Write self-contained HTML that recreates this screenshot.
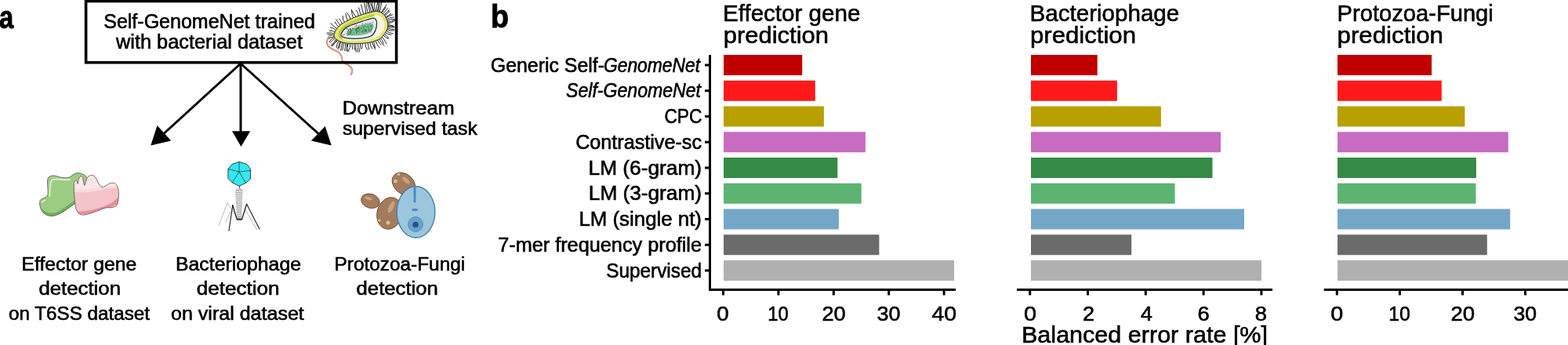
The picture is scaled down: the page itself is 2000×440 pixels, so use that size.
<!DOCTYPE html>
<html><head><meta charset="utf-8"><style>
html,body{margin:0;padding:0;background:#fff;width:2000px;height:440px;overflow:hidden}
svg{display:block}
text{font-family:"Liberation Sans", sans-serif;fill:#000}
</style></head><body>
<svg width="2000" height="440" viewBox="0 0 2000 440">
<!-- bacterium -->
<g id="bact">
<path d="M423,44.6 C417.5,47 416,53 417.6,57.2 C419,61 426,64 430.9,66 C434.5,68 436.3,73 436.8,77.8 C437.5,80.5 441,81.5 443.4,82.3 C446.5,84 449.5,87.5 449.3,91.1 C449,93 448,94.5 447.1,95.6" fill="none" stroke="#c47a6a" stroke-width="1.9"/><path d="M423,44.6 C417.5,47 416,53 417.6,57.2 C419,61 426,64 430.9,66 C434.5,68 436.3,73 436.8,77.8 C437.5,80.5 441,81.5 443.4,82.3 C446.5,84 449.5,87.5 449.3,91.1 C449,93 448,94.5 447.1,95.6" fill="none" stroke="#eea592" stroke-width="0.8"/>
<path d="M427.1,44.8Q422.2,43.8 418.1,44.0M427.4,43.1Q422.1,41.1 416.9,42.1M428.1,41.3Q424.4,38.5 420.3,39.1M429.1,39.2Q425.6,35.4 421.3,34.8M430.5,37.1Q425.5,33.5 421.8,29.8M432.2,35.0Q429.0,31.4 427.2,27.8M434.2,33.1Q431.3,28.3 428.6,24.7M436.8,31.2Q435.0,26.9 432.7,24.0M440.0,29.2Q436.3,25.5 437.1,20.3M443.6,27.3Q441.7,22.2 440.8,17.6M447.3,25.5Q446.0,19.6 442.3,15.9M451.0,23.8Q448.4,18.3 448.4,12.7M454.4,22.3Q450.8,17.0 448.2,12.4M457.6,21.1Q457.2,15.9 454.2,12.8M460.7,20.0Q458.4,14.7 457.6,9.9M463.8,19.0Q462.1,12.0 460.6,6.0M466.8,18.2Q466.1,10.3 464.8,3.5M469.6,17.5Q466.7,10.1 467.8,2.8M472.0,16.9Q470.2,8.8 469.2,1.5M474.1,16.3Q472.3,8.4 469.3,1.7M475.9,15.9Q475.5,7.6 470.4,1.3M477.4,15.6Q475.1,8.5 474.1,2.3M478.7,15.4Q476.7,7.3 478.1,-0.1M479.9,15.4Q479.8,7.4 482.5,0.6M481.2,15.5Q483.9,8.3 482.6,1.5M482.6,15.8Q483.3,8.0 484.9,1.5M484.0,16.2Q485.8,8.6 487.0,1.9M485.4,16.8Q489.8,11.0 493.1,5.8M486.6,17.5Q489.4,13.0 491.9,9.5M487.8,18.3Q491.7,14.0 494.8,10.4M488.9,19.3Q494.0,16.4 496.6,12.2M489.8,20.5Q494.6,17.9 497.0,13.8M490.8,21.9Q495.9,20.6 498.8,17.4M491.7,23.5Q496.1,19.8 500.7,18.7M492.4,25.2Q497.1,21.8 502.2,21.9M493.0,26.8Q498.1,23.9 503.3,24.4M493.4,28.4Q498.8,27.8 502.9,25.7M493.7,29.9Q499.7,29.8 504.1,26.1M493.9,31.4Q498.5,31.7 502.2,33.3M493.9,32.8Q498.9,33.0 502.8,33.8M493.7,34.2Q498.8,34.8 503.0,35.0M493.4,35.7Q498.3,37.6 502.7,37.6M492.8,37.3Q497.3,40.2 502.4,39.0M491.9,39.0Q496.6,42.3 501.5,43.0M490.9,40.9Q494.6,44.3 499.1,44.5M489.6,42.9Q493.7,45.6 496.1,48.8M488.2,44.7Q492.1,47.4 495.1,49.6M486.6,46.4Q491.0,50.8 493.1,55.9M484.9,47.9Q488.2,51.5 489.4,55.4M483.1,49.1Q486.3,54.5 490.0,58.4M481.1,50.2Q483.0,54.5 486.0,57.2M478.9,51.1Q480.0,57.2 484.2,61.1M476.6,51.8Q477.2,57.0 478.5,60.8M474.1,52.5Q476.1,58.3 478.6,63.0M471.6,53.1Q471.8,58.3 474.6,61.9M468.9,53.6Q469.8,58.7 470.5,62.8M465.9,53.9Q465.1,59.4 468.5,63.4M462.8,54.2Q461.8,58.8 461.4,62.3M459.7,54.3Q460.2,60.8 457.9,66.4M456.7,54.4Q457.7,60.8 455.8,66.2M454.0,54.5Q453.6,60.7 454.1,65.8M451.5,54.5Q451.9,59.6 452.8,63.7M449.1,54.5Q448.7,59.2 449.9,62.8M446.8,54.5Q447.8,60.6 444.2,65.6M444.6,54.3Q442.9,60.1 441.7,64.9M442.6,54.1Q441.6,60.3 443.5,65.9M440.7,53.8Q440.6,59.9 439.7,64.8M438.8,53.5Q437.5,59.1 436.9,63.9M437.1,53.0Q435.1,59.1 434.7,64.6M435.5,52.5Q432.8,56.9 432.6,61.1M434.0,52.0Q432.0,57.7 430.9,62.8M432.7,51.3Q429.1,55.7 429.1,61.0M431.5,50.6Q426.9,54.8 423.8,58.8M430.3,49.7Q427.8,55.5 423.0,58.4M429.2,48.8Q426.0,54.4 422.4,58.2M428.2,47.9Q424.3,51.1 421.5,54.0M427.5,47.0Q422.3,48.6 419.8,53.6M427.1,45.9Q422.7,47.7 419.3,49.0" fill="none" stroke="#1a1a1a" stroke-width="0.95" stroke-linecap="round"/>
<path d="M426.1,44.6 C426.6,41.4 429.0,36.2 433.6,32.3 C438.2,28.4 447.6,24.1 454.0,21.4 C460.4,18.7 467.2,17.1 471.8,15.9 C476.4,14.8 478.4,14.1 481.4,14.5 C484.4,14.9 487.4,16.3 489.6,18.6 C491.8,20.9 493.7,25.0 494.4,28.2 C495.1,31.4 495.2,34.3 493.7,37.7 C492.2,41.1 489.1,46.0 485.5,48.7 C481.9,51.4 477.1,53.0 471.8,54.1 C466.6,55.2 459.2,55.4 454.0,55.5 C448.8,55.6 444.4,55.5 440.5,54.8 C436.6,54.1 433.3,53.1 430.9,51.4 C428.5,49.7 425.7,47.8 426.1,44.6 Z" fill="#e2e67a" stroke="#2a2a2a" stroke-width="1"/>
<path d="M431.5,44.6 C432.0,42.5 433.1,39.0 437.0,36.0 C440.9,33.0 449.2,29.1 455.0,26.5 C460.8,23.9 467.7,21.7 472.0,20.5 C476.3,19.3 478.5,19.2 481.0,19.5 C483.5,19.8 485.5,20.9 487.0,22.5 C488.5,24.1 489.6,26.5 490.0,29.0 C490.4,31.5 490.8,34.7 489.5,37.5 C488.2,40.3 485.7,43.8 482.5,46.0 C479.3,48.2 475.2,49.6 470.5,50.5 C465.8,51.4 458.9,51.4 454.0,51.5 C449.1,51.6 444.3,51.5 441.0,51.0 C437.7,50.5 435.6,49.6 434.0,48.5 C432.4,47.4 431.0,46.7 431.5,44.6 Z" fill="#f7f6d8"/>
<path d="M436,49 C431,46 432,41 436,37 C444,30 458,24 476,19.5" fill="none" stroke="#c6cf2a" stroke-width="3" stroke-linecap="round"/>
<path d="M435.0,43.5 C435.9,41.6 437.5,37.7 441.8,35.0 C446.1,32.3 455.5,29.4 461.0,27.5 C466.5,25.6 471.7,24.0 474.6,23.4 C477.6,22.8 477.7,23.1 478.7,24.1 C479.7,25.1 480.5,27.1 480.5,29.6 C480.5,32.1 479.9,36.4 478.7,39.1 C477.5,41.8 476.1,44.3 473.2,45.9 C470.2,47.5 466.0,48.2 461.0,48.7 C456.0,49.2 447.3,49.1 443.2,48.7 C439.1,48.4 437.8,47.5 436.4,46.6 C435.0,45.7 434.1,45.4 435.0,43.5 Z" fill="#ffffff" stroke="#1d4f5e" stroke-width="1.5"/>
<path d="M437.5,43.5 C438.2,42.1 439.1,39.2 443.0,37.0 C446.9,34.8 455.8,31.8 461.0,30.0 C466.2,28.2 471.2,26.5 474.0,26.0 C476.8,25.5 476.8,26.2 477.5,27.0 C478.2,27.8 478.5,28.6 478.3,30.5 C478.1,32.4 477.6,36.2 476.5,38.5 C475.4,40.8 474.1,42.7 471.5,44.0 C468.9,45.3 465.6,45.9 461.0,46.3 C456.4,46.7 447.8,46.5 444.0,46.3 C440.2,46.1 439.6,45.8 438.5,45.3 C437.4,44.8 436.8,44.9 437.5,43.5 Z" fill="#f6dcea"/>
<path d="M442.5,45.3h1.5M471.6,29.4h1.5M458.6,34.3h1.5M451.6,35.8h1.5M463.9,37.0h1.5M453.4,33.5h1.5M452.2,32.8h1.5M460.6,39.2h1.5M454.1,31.9h1.5M446.6,36.9h1.5M462.4,39.8h1.5M454.1,41.3h1.5M463.0,35.2h1.5M453.8,37.4h1.5M466.0,34.6h1.5M465.7,35.1h1.5M449.1,38.6h1.5M465.7,30.1h1.5M455.7,36.2h1.5M472.5,40.3h1.5M453.8,42.6h1.5M469.3,32.0h1.5M457.2,32.0h1.5M470.1,37.1h1.5M472.8,38.4h1.5M464.7,38.8h1.5M460.9,31.2h1.5M461.7,29.8h1.5M445.3,42.3h1.5M441.6,33.9h1.5M443.7,43.9h1.5M446.6,32.3h1.5M471.1,29.9h1.5M471.2,37.1h1.5M470.9,40.7h1.5M461.4,40.2h1.5M441.3,42.8h1.5M458.9,39.5h1.5M443.9,42.1h1.5M474.6,28.6h1.5" stroke="#e060a8" stroke-width="1.2"/>
<path d="M441,44 C443,40 450,36 458,33 C466,30 473,28 476,31 C478,35 474,41 467,43.5 C458,45.5 448,46 441,44 Z" fill="#74c08e"/>
<path d="M453.4,39.4l1.3,-1.0M448.8,37.8l0.5,1.0M455.6,37.4l-0.4,-0.6M456.4,35.0l0.0,1.9M456.2,40.3l-1.4,0.8M467.2,37.6l0.1,-0.1M463.6,40.1l-1.4,-1.6M466.9,39.5l0.1,-0.2M466.0,33.9l-0.9,-1.2M461.7,35.8l-1.1,0.8M473.5,33.3l0.8,-0.3M470.3,36.2l-0.9,-1.1M443.7,40.7l-0.5,-1.3M454.5,37.3l1.1,-1.4M474.7,34.5l0.4,-0.1M469.7,38.2l0.2,-0.1M466.1,39.2l-0.4,0.9M473.7,34.6l-1.1,-1.1M466.0,37.8l1.8,1.4M450.7,37.0l-1.0,-1.3M465.6,39.4l1.6,-1.0M470.7,34.0l-0.3,0.9M445.7,37.2l1.3,-0.8M454.4,39.4l0.7,-2.0M453.7,38.3l-0.1,-1.2M461.7,40.9l-0.4,0.2M446.8,38.4l0.7,-1.5M471.4,38.6l-1.6,1.8M455.0,40.8l1.0,-0.8M464.6,37.9l1.2,-0.9M467.1,39.9l0.7,0.1M446.6,40.2l-0.6,0.9M464.7,37.2l-1.3,0.6M463.2,34.4l1.6,0.6M446.9,43.7l-1.4,-0.7M466.1,37.2l0.2,0.6M457.6,36.6l-1.3,-1.7M465.9,38.5l0.2,1.0M454.5,36.8l-0.5,1.5M444.3,40.8l-1.0,1.1M454.3,37.4l-0.4,0.2M467.7,34.9l1.4,-1.6M451.7,36.1l-1.5,1.1M466.3,33.8l-1.2,-0.3M466.8,38.8l1.0,0.4M447.7,39.2l-1.2,0.1M461.2,35.0l-1.0,1.1M444.0,43.2l1.6,1.8M455.3,39.0l0.3,0.5M474.3,36.2l-0.8,1.4M458.5,38.7l0.9,-2.0M467.7,37.4l-0.0,0.1M457.7,35.6l0.1,-1.9M459.0,39.0l-0.2,0.3M473.7,38.0l-1.5,1.2M462.9,33.4l-0.6,-1.1M445.5,40.8l1.7,-0.7M470.9,37.0l-1.5,1.4M462.2,40.6l0.9,1.0M454.0,41.3l1.7,1.4M457.0,40.3l-0.1,-1.6M444.4,37.4l-1.2,-1.4M458.9,39.4l0.1,-0.3M463.8,35.3l-0.1,1.0M455.8,35.9l1.6,0.9M454.7,37.6l0.1,0.4M450.2,35.6l-1.2,1.1M447.6,39.8l-1.2,-1.2M448.5,39.1l-1.3,-1.9M446.5,37.6l-0.0,-1.8M443.7,40.4l-0.4,0.8M444.6,39.9l-0.4,-1.9M473.9,32.6l-1.6,-0.1M448.3,40.9l-0.6,-1.5M444.7,42.5l-0.9,1.2M457.9,41.5l-0.8,-1.0M451.5,41.8l0.5,-0.6M446.0,41.9l1.9,0.4M443.1,37.2l-1.6,-1.3M444.2,37.2l0.6,1.6M449.4,43.5l-0.1,1.2M472.4,38.6l-1.9,-0.8M462.4,40.7l-1.6,-0.8M470.2,32.5l-0.4,-0.7M464.8,40.1l-1.3,1.0M466.5,39.0l0.2,1.7M454.6,38.0l-1.1,1.1M458.4,36.1l-1.3,0.9M462.4,38.8l-0.5,-0.1M447.9,41.7l-1.9,-0.1" stroke="#1f5e3a" stroke-width="0.8" fill="none"/>
<path d="M433,45 l7,-1" stroke="#e08a70" stroke-width="1.6"/>
</g>
<!-- proteins -->
<g id="prot">
<clipPath id="cg"><path d="M62.0,226.1 C63.4,224.6 66.0,223.9 68.6,223.9 C71.2,223.9 74.3,225.7 77.5,226.1 C80.7,226.5 84.8,227.1 87.8,226.3 C90.8,225.6 92.7,222.5 95.2,221.6 C97.7,220.7 100.1,220.3 102.6,220.9 C105.1,221.5 108.2,223.1 110.0,225.3 C111.8,227.5 113.4,230.4 113.7,234.2 C114.0,238.0 114.3,244.2 112.0,248.0 C109.7,251.8 103.0,254.8 100.0,257.0 C97.0,259.2 96.5,259.1 93.7,261.0 C90.9,262.9 86.6,266.1 83.4,268.2 C80.2,270.2 77.5,272.1 74.5,273.3 C71.5,274.5 68.7,275.7 65.7,275.6 C62.8,275.5 59.1,274.3 56.8,272.6 C54.4,270.9 52.6,267.9 51.6,265.2 C50.6,262.5 50.5,258.4 50.9,256.4 C51.3,254.4 52.4,254.4 53.9,253.4 C55.4,252.4 58.6,252.0 59.8,250.5 C61.0,249.0 61.1,247.5 61.2,244.5 C61.3,241.5 60.4,235.8 60.5,232.7 C60.6,229.6 60.6,227.6 62.0,226.1 Z"/></clipPath><clipPath id="cp"><path d="M94.4,236.0 C94.5,233.9 94.5,232.9 94.8,232.0 C95.1,231.1 95.9,230.3 96.5,230.3 C97.1,230.3 97.8,231.1 98.3,231.8 C98.8,232.5 99.0,234.9 99.3,234.5 C99.6,234.1 99.6,230.9 100.0,229.5 C100.4,228.1 100.9,226.8 101.5,226.0 C102.1,225.2 102.9,224.8 103.5,224.8 C104.1,224.9 104.8,225.4 105.3,226.3 C105.8,227.2 105.9,228.5 106.2,230.0 C106.5,231.5 107.0,234.5 107.3,235.5 C107.6,236.5 107.9,236.7 108.3,236.0 C108.7,235.3 109.0,233.1 109.5,231.5 C110.0,229.9 110.7,227.8 111.5,226.5 C112.3,225.2 113.4,224.5 114.5,224.0 C115.6,223.5 116.9,223.4 118.0,223.6 C119.1,223.8 120.1,224.3 121.0,225.3 C121.9,226.3 122.6,227.9 123.5,229.5 C124.4,231.1 125.4,233.5 126.3,235.0 C127.2,236.5 127.8,237.9 129.1,238.3 C130.4,238.7 132.5,237.9 134.3,237.2 C136.2,236.4 138.3,234.4 140.2,233.8 C142.0,233.2 143.9,233.1 145.4,233.5 C146.9,233.9 148.1,234.6 149.1,236.4 C150.1,238.2 151.1,241.2 151.3,244.5 C151.6,247.8 151.1,253.4 150.6,256.4 C150.1,259.4 149.5,260.9 148.3,262.3 C147.1,263.7 145.5,264.0 143.2,264.5 C140.9,265.0 137.5,264.5 134.3,265.2 C131.1,265.9 127.5,267.7 124.0,268.9 C120.5,270.1 116.6,271.7 113.6,272.6 C110.6,273.5 108.4,274.2 106.2,274.1 C104.0,274.0 101.9,273.4 100.3,271.9 C98.7,270.4 97.4,268.0 96.6,265.2 C95.8,262.4 95.6,258.4 95.2,254.9 C94.8,251.5 94.5,247.7 94.4,244.5 C94.3,241.3 94.3,238.1 94.4,236.0 Z"/></clipPath>
<path d="M62.0,226.1 C63.4,224.6 66.0,223.9 68.6,223.9 C71.2,223.9 74.3,225.7 77.5,226.1 C80.7,226.5 84.8,227.1 87.8,226.3 C90.8,225.6 92.7,222.5 95.2,221.6 C97.7,220.7 100.1,220.3 102.6,220.9 C105.1,221.5 108.2,223.1 110.0,225.3 C111.8,227.5 113.4,230.4 113.7,234.2 C114.0,238.0 114.3,244.2 112.0,248.0 C109.7,251.8 103.0,254.8 100.0,257.0 C97.0,259.2 96.5,259.1 93.7,261.0 C90.9,262.9 86.6,266.1 83.4,268.2 C80.2,270.2 77.5,272.1 74.5,273.3 C71.5,274.5 68.7,275.7 65.7,275.6 C62.8,275.5 59.1,274.3 56.8,272.6 C54.4,270.9 52.6,267.9 51.6,265.2 C50.6,262.5 50.5,258.4 50.9,256.4 C51.3,254.4 52.4,254.4 53.9,253.4 C55.4,252.4 58.6,252.0 59.8,250.5 C61.0,249.0 61.1,247.5 61.2,244.5 C61.3,241.5 60.4,235.8 60.5,232.7 C60.6,229.6 60.6,227.6 62.0,226.1 Z" fill="#9ccb82"/>
<g clip-path="url(#cg)"><path d="M52,268 C58,274 66,275 74,272 C82,268 90,262 98,256 C104,252 110,248 114,240" fill="none" stroke="#70ae56" stroke-width="4" stroke-linecap="round"/><path d="M63.5,250 C63,240 63.5,233 66.5,229.5 C72,227.5 80,229.5 89,229" fill="none" stroke="#d6ecc8" stroke-width="2.2" stroke-linecap="round"/><path d="M53,258 C55,256 57,256 58,255" fill="none" stroke="#d6ecc8" stroke-width="1.5" stroke-linecap="round"/></g>
<path d="M62.0,226.1 C63.4,224.6 66.0,223.9 68.6,223.9 C71.2,223.9 74.3,225.7 77.5,226.1 C80.7,226.5 84.8,227.1 87.8,226.3 C90.8,225.6 92.7,222.5 95.2,221.6 C97.7,220.7 100.1,220.3 102.6,220.9 C105.1,221.5 108.2,223.1 110.0,225.3 C111.8,227.5 113.4,230.4 113.7,234.2 C114.0,238.0 114.3,244.2 112.0,248.0 C109.7,251.8 103.0,254.8 100.0,257.0 C97.0,259.2 96.5,259.1 93.7,261.0 C90.9,262.9 86.6,266.1 83.4,268.2 C80.2,270.2 77.5,272.1 74.5,273.3 C71.5,274.5 68.7,275.7 65.7,275.6 C62.8,275.5 59.1,274.3 56.8,272.6 C54.4,270.9 52.6,267.9 51.6,265.2 C50.6,262.5 50.5,258.4 50.9,256.4 C51.3,254.4 52.4,254.4 53.9,253.4 C55.4,252.4 58.6,252.0 59.8,250.5 C61.0,249.0 61.1,247.5 61.2,244.5 C61.3,241.5 60.4,235.8 60.5,232.7 C60.6,229.6 60.6,227.6 62.0,226.1 Z" fill="none" stroke="#505050" stroke-width="0.8"/>
<path d="M94.4,236.0 C94.5,233.9 94.5,232.9 94.8,232.0 C95.1,231.1 95.9,230.3 96.5,230.3 C97.1,230.3 97.8,231.1 98.3,231.8 C98.8,232.5 99.0,234.9 99.3,234.5 C99.6,234.1 99.6,230.9 100.0,229.5 C100.4,228.1 100.9,226.8 101.5,226.0 C102.1,225.2 102.9,224.8 103.5,224.8 C104.1,224.9 104.8,225.4 105.3,226.3 C105.8,227.2 105.9,228.5 106.2,230.0 C106.5,231.5 107.0,234.5 107.3,235.5 C107.6,236.5 107.9,236.7 108.3,236.0 C108.7,235.3 109.0,233.1 109.5,231.5 C110.0,229.9 110.7,227.8 111.5,226.5 C112.3,225.2 113.4,224.5 114.5,224.0 C115.6,223.5 116.9,223.4 118.0,223.6 C119.1,223.8 120.1,224.3 121.0,225.3 C121.9,226.3 122.6,227.9 123.5,229.5 C124.4,231.1 125.4,233.5 126.3,235.0 C127.2,236.5 127.8,237.9 129.1,238.3 C130.4,238.7 132.5,237.9 134.3,237.2 C136.2,236.4 138.3,234.4 140.2,233.8 C142.0,233.2 143.9,233.1 145.4,233.5 C146.9,233.9 148.1,234.6 149.1,236.4 C150.1,238.2 151.1,241.2 151.3,244.5 C151.6,247.8 151.1,253.4 150.6,256.4 C150.1,259.4 149.5,260.9 148.3,262.3 C147.1,263.7 145.5,264.0 143.2,264.5 C140.9,265.0 137.5,264.5 134.3,265.2 C131.1,265.9 127.5,267.7 124.0,268.9 C120.5,270.1 116.6,271.7 113.6,272.6 C110.6,273.5 108.4,274.2 106.2,274.1 C104.0,274.0 101.9,273.4 100.3,271.9 C98.7,270.4 97.4,268.0 96.6,265.2 C95.8,262.4 95.6,258.4 95.2,254.9 C94.8,251.5 94.5,247.7 94.4,244.5 C94.3,241.3 94.3,238.1 94.4,236.0 Z" fill="#f4c3c8"/>
<g clip-path="url(#cp)"><path d="M90,220 L160,220 L160,239 C150,240 140,239 130,242 C120,245 110,246 90,245 Z" fill="#fbdadd"/><path d="M90,220 L160,220 L160,236 C150,237 140,236 130,239 C120,241 110,242 90,241 Z" fill="#fde6e8"/><path d="M90,268 C105,272 118,268 130,264 C138,261 146,258 152,250 L160,290 L90,290 Z" fill="#e78e9b"/><path d="M95,270 C108,276 118,272 130,268 C140,264 148,262 152,258 L160,290 L90,290 Z" fill="#f6c9cd"/></g>
<path d="M94.4,236.0 C94.5,233.9 94.5,232.9 94.8,232.0 C95.1,231.1 95.9,230.3 96.5,230.3 C97.1,230.3 97.8,231.1 98.3,231.8 C98.8,232.5 99.0,234.9 99.3,234.5 C99.6,234.1 99.6,230.9 100.0,229.5 C100.4,228.1 100.9,226.8 101.5,226.0 C102.1,225.2 102.9,224.8 103.5,224.8 C104.1,224.9 104.8,225.4 105.3,226.3 C105.8,227.2 105.9,228.5 106.2,230.0 C106.5,231.5 107.0,234.5 107.3,235.5 C107.6,236.5 107.9,236.7 108.3,236.0 C108.7,235.3 109.0,233.1 109.5,231.5 C110.0,229.9 110.7,227.8 111.5,226.5 C112.3,225.2 113.4,224.5 114.5,224.0 C115.6,223.5 116.9,223.4 118.0,223.6 C119.1,223.8 120.1,224.3 121.0,225.3 C121.9,226.3 122.6,227.9 123.5,229.5 C124.4,231.1 125.4,233.5 126.3,235.0 C127.2,236.5 127.8,237.9 129.1,238.3 C130.4,238.7 132.5,237.9 134.3,237.2 C136.2,236.4 138.3,234.4 140.2,233.8 C142.0,233.2 143.9,233.1 145.4,233.5 C146.9,233.9 148.1,234.6 149.1,236.4 C150.1,238.2 151.1,241.2 151.3,244.5 C151.6,247.8 151.1,253.4 150.6,256.4 C150.1,259.4 149.5,260.9 148.3,262.3 C147.1,263.7 145.5,264.0 143.2,264.5 C140.9,265.0 137.5,264.5 134.3,265.2 C131.1,265.9 127.5,267.7 124.0,268.9 C120.5,270.1 116.6,271.7 113.6,272.6 C110.6,273.5 108.4,274.2 106.2,274.1 C104.0,274.0 101.9,273.4 100.3,271.9 C98.7,270.4 97.4,268.0 96.6,265.2 C95.8,262.4 95.6,258.4 95.2,254.9 C94.8,251.5 94.5,247.7 94.4,244.5 C94.3,241.3 94.3,238.1 94.4,236.0 Z" fill="none" stroke="#505050" stroke-width="0.8"/>
</g>
<!-- phage -->
<g id="phage">
  <g stroke="#9a9a9a" stroke-width="0.7" fill="none" stroke-linecap="round">
    <path d="M290,258.9 L279,287.5 M290,258.9 L301.6,276 M312,266 L327.5,293 M294,270 L288,283"/>
  </g>
  <g stroke="#1e1e1e" fill="none" stroke-linecap="round" stroke-linejoin="round">
    <path d="M302.3,280 L296.8,261.6" stroke-width="1.3"/>
    <path d="M296.8,261.6 L292,294.3" stroke-width="1.1"/>
    <path d="M308.4,280 L314.6,260.2" stroke-width="1.3"/>
    <path d="M314.6,260.2 L331,292.3" stroke-width="1.1"/>
  </g>
  <path d="M300.2,241.8 L309.1,241.8 L308.4,262 L307.7,279 L303,279 L301.6,262 Z" fill="#ffffff" stroke="#999" stroke-width="0.4"/>
  <path d="M300.6,242.5H309.0M300.7,244.1H308.9M300.8,245.6H308.9M300.9,247.2H308.8M301.0,248.7H308.7M301.1,250.2H308.7M301.2,251.8H308.6M301.3,253.3H308.5M301.4,254.9H308.5M301.5,256.4H308.4M301.6,258.0H308.4M301.7,259.6H308.3M301.7,261.1H308.2M301.8,262.6H308.2M301.9,264.2H308.1M302.0,265.8H308.1M302.1,267.3H308.0M302.2,268.9H307.9M302.3,270.4H307.9M302.4,271.9H307.8M302.5,273.5H307.7M302.6,275.1H307.7M302.7,276.6H307.6M302.8,278.1H307.6" stroke="#5a5a5a" stroke-width="0.5" fill="none"/>
  <path d="M301,278.6 L309.5,278.6 L308,281 L302.5,281 Z" fill="#4a4a4a"/>
  <line x1="305.6" y1="236.8" x2="305.6" y2="241" stroke="#333" stroke-width="0.9"/>
  <ellipse cx="305.3" cy="241.2" rx="3.2" ry="0.9" fill="#c8c8c8"/>
  <polygon points="305,206.4 315,209.5 319.5,215.5 319.5,228.2 313.2,233.6 305,237.3 295.9,232.7 290.9,227.3 290.9,215.5 295.9,209.5" fill="#30eaf0" stroke="#2a2a2a" stroke-width="0.9" stroke-linejoin="round"/>
  <g stroke="#243434" stroke-width="0.75" fill="none">
    <path d="M305,206.4 L305,219.1 M290.9,215.5 L305,219.1 L319.5,217.5 M305,219.1 L296.3,232.7 M305,219.1 L313.5,233.4"/>
  </g>
</g>
<!-- protozoa / fungi -->
<g id="fungi">
  <ellipse cx="472.4" cy="256.3" rx="12" ry="9" transform="rotate(18 472.4 256.3)" fill="#a57c5b" stroke="#6e4d35" stroke-width="0.9"/>
  <ellipse cx="470" cy="253" rx="5" ry="2" transform="rotate(18 470 253)" fill="#c6a282"/>
  <ellipse cx="515" cy="234.5" rx="16.5" ry="12.5" transform="rotate(42 515 234.5)" fill="#a57c5b" stroke="#6e4d35" stroke-width="0.9"/>
  <ellipse cx="518" cy="230" rx="6" ry="2.5" transform="rotate(42 518 230)" fill="#c6a282"/>
  <circle cx="504.5" cy="231" r="3" fill="#d6bd9b" stroke="#8b6a4d" stroke-width="0.8"/>
  <circle cx="508.5" cy="222.5" r="2.3" fill="#d6bd9b" stroke="#8b6a4d" stroke-width="0.8"/>
  <ellipse cx="497" cy="272" rx="16" ry="20.5" transform="rotate(15 497 272)" fill="#a57c5b" stroke="#6e4d35" stroke-width="0.9"/>
  <ellipse cx="499" cy="264" rx="3" ry="8" transform="rotate(25 499 264)" fill="#c6a282"/>
  <circle cx="484" cy="281" r="2.3" fill="#d6bd9b" stroke="#8b6a4d" stroke-width="0.8"/>
  <circle cx="495" cy="284" r="3.2" fill="#d6bd9b" stroke="#8b6a4d" stroke-width="0.8"/>
  <ellipse cx="530.5" cy="270.5" rx="24.3" ry="32.8" fill="#9cc6de" stroke="#3f7fb3" stroke-width="1.4"/>
  <path d="M528,239 L528.2,258 L529.8,258 L530,239" fill="#5f98c6" stroke="#3f7fb3" stroke-width="1"/>
  <ellipse cx="529" cy="267.5" rx="4" ry="1.8" fill="#4f8cbe"/>
  <circle cx="530" cy="286" r="9.5" fill="#6aa1cc" stroke="#4d8abd" stroke-width="0.8"/>
  <circle cx="530" cy="286.5" r="3.8" fill="#1f5588"/>
</g>

<rect x="109.6" y="1.5" width="396" height="78.2" fill="none" stroke="#000" stroke-width="3.6"/>
<g stroke="#000" stroke-width="3" fill="none"><line x1="307" y1="81" x2="307" y2="170"/><line x1="307" y1="81" x2="205" y2="174"/><line x1="307" y1="81" x2="410" y2="174"/></g>
<g fill="#000"><polygon points="296,167.2 319.2,167.2 307.5,187"/><polygon points="200.5,160 218.2,179.5 192.3,185.5"/><polygon points="396.9,179.5 414.7,161 422.8,185.5"/></g>
<rect x="923.0" y="70.00" width="100.2" height="26.0" fill="#c00000"/>
<rect x="923.0" y="102.75" width="116.8" height="26.0" fill="#ff1a1a"/>
<rect x="923.0" y="135.50" width="127.9" height="26.0" fill="#b8a000"/>
<rect x="923.0" y="168.25" width="180.9" height="26.0" fill="#c76cc1"/>
<rect x="923.0" y="201.00" width="145.3" height="26.0" fill="#358a47"/>
<rect x="923.0" y="233.75" width="175.7" height="26.0" fill="#5db371"/>
<rect x="923.0" y="266.50" width="146.9" height="26.0" fill="#74a6c7"/>
<rect x="923.0" y="299.25" width="198.4" height="26.0" fill="#6b6b6b"/>
<rect x="923.0" y="332.00" width="294.0" height="26.0" fill="#b0b0b0"/>
<rect x="904.0" y="368.0" width="315.0" height="3" fill="#000"/>
<rect x="921.0" y="370" width="3" height="6.5" fill="#000"/>
<rect x="991.4" y="370" width="3" height="6.5" fill="#000"/>
<rect x="1061.8" y="370" width="3" height="6.5" fill="#000"/>
<rect x="1132.2" y="370" width="3" height="6.5" fill="#000"/>
<rect x="1202.6" y="370" width="3" height="6.5" fill="#000"/>
<rect x="1315.0" y="70.00" width="84.7" height="26.0" fill="#c00000"/>
<rect x="1315.0" y="102.75" width="109.9" height="26.0" fill="#ff1a1a"/>
<rect x="1315.0" y="135.50" width="165.9" height="26.0" fill="#b8a000"/>
<rect x="1315.0" y="168.25" width="242.0" height="26.0" fill="#c76cc1"/>
<rect x="1315.0" y="201.00" width="231.5" height="26.0" fill="#358a47"/>
<rect x="1315.0" y="233.75" width="183.6" height="26.0" fill="#5db371"/>
<rect x="1315.0" y="266.50" width="272.0" height="26.0" fill="#74a6c7"/>
<rect x="1315.0" y="299.25" width="128.2" height="26.0" fill="#6b6b6b"/>
<rect x="1315.0" y="332.00" width="294.0" height="26.0" fill="#b0b0b0"/>
<rect x="1297.0" y="368.0" width="326.0" height="3" fill="#000"/>
<rect x="1312.2" y="370" width="3" height="6.5" fill="#000"/>
<rect x="1386.0" y="370" width="3" height="6.5" fill="#000"/>
<rect x="1459.8" y="370" width="3" height="6.5" fill="#000"/>
<rect x="1533.6" y="370" width="3" height="6.5" fill="#000"/>
<rect x="1607.4" y="370" width="3" height="6.5" fill="#000"/>
<rect x="1706.0" y="70.00" width="120.1" height="26.0" fill="#c00000"/>
<rect x="1706.0" y="102.75" width="132.8" height="26.0" fill="#ff1a1a"/>
<rect x="1706.0" y="135.50" width="162.4" height="26.0" fill="#b8a000"/>
<rect x="1706.0" y="168.25" width="217.8" height="26.0" fill="#c76cc1"/>
<rect x="1706.0" y="201.00" width="176.9" height="26.0" fill="#358a47"/>
<rect x="1706.0" y="233.75" width="176.5" height="26.0" fill="#5db371"/>
<rect x="1706.0" y="266.50" width="220.2" height="26.0" fill="#74a6c7"/>
<rect x="1706.0" y="299.25" width="190.8" height="26.0" fill="#6b6b6b"/>
<rect x="1706.0" y="332.00" width="299.0" height="26.0" fill="#b0b0b0"/>
<rect x="1688.7" y="368.0" width="311.3" height="3" fill="#000"/>
<rect x="1703.8" y="370" width="3" height="6.5" fill="#000"/>
<rect x="1783.9" y="370" width="3" height="6.5" fill="#000"/>
<rect x="1864.0" y="370" width="3" height="6.5" fill="#000"/>
<rect x="1944.0" y="370" width="3" height="6.5" fill="#000"/>
<rect x="904" y="70" width="3" height="301" fill="#000"/>
<rect x="899" y="81.50" width="5" height="3" fill="#000"/>
<rect x="899" y="114.25" width="5" height="3" fill="#000"/>
<rect x="899" y="147.00" width="5" height="3" fill="#000"/>
<rect x="899" y="179.75" width="5" height="3" fill="#000"/>
<rect x="899" y="212.50" width="5" height="3" fill="#000"/>
<rect x="899" y="245.25" width="5" height="3" fill="#000"/>
<rect x="899" y="278.00" width="5" height="3" fill="#000"/>
<rect x="899" y="310.75" width="5" height="3" fill="#000"/>
<rect x="899" y="343.50" width="5" height="3" fill="#000"/>
<text x="-1.00" y="35.6" font-size="40.5" font-weight="bold" font-style="normal" textLength="18.20" lengthAdjust="spacingAndGlyphs" stroke="#000" stroke-width="0.9">a</text>
<text x="626.00" y="35.4" font-size="41" font-weight="bold" font-style="normal" textLength="23.00" lengthAdjust="spacingAndGlyphs" stroke="#000" stroke-width="0.9">b</text>
<text x="132.20" y="36.4" font-size="25" font-weight="normal" font-style="normal" textLength="269.80" lengthAdjust="spacingAndGlyphs" stroke="#000" stroke-width="0.6">Self-GenomeNet trained</text>
<text x="148.00" y="62.4" font-size="25" font-weight="normal" font-style="normal" textLength="238.00" lengthAdjust="spacingAndGlyphs" stroke="#000" stroke-width="0.6">with bacterial dataset</text>
<text x="436.80" y="146.0" font-size="23.7" font-weight="normal" font-style="normal" textLength="143.00" lengthAdjust="spacingAndGlyphs" stroke="#000" stroke-width="0.6">Downstream</text>
<text x="437.00" y="171.5" font-size="23.7" font-weight="normal" font-style="normal" textLength="171.80" lengthAdjust="spacingAndGlyphs" stroke="#000" stroke-width="0.6">supervised task</text>
<text x="27.60" y="344.8" font-size="23.3" font-weight="normal" font-style="normal" textLength="146.60" lengthAdjust="spacingAndGlyphs" stroke="#000" stroke-width="0.6">Effector gene</text>
<text x="49.40" y="375.9" font-size="23.3" font-weight="normal" font-style="normal" textLength="104.60" lengthAdjust="spacingAndGlyphs" stroke="#000" stroke-width="0.6">detection</text>
<text x="11.00" y="407.6" font-size="23.3" font-weight="normal" font-style="normal" textLength="180.00" lengthAdjust="spacingAndGlyphs" stroke="#000" stroke-width="0.6">on T6SS dataset</text>
<text x="224.00" y="344.8" font-size="23.3" font-weight="normal" font-style="normal" textLength="160.00" lengthAdjust="spacingAndGlyphs" stroke="#000" stroke-width="0.6">Bacteriophage</text>
<text x="250.80" y="375.9" font-size="23.3" font-weight="normal" font-style="normal" textLength="105.80" lengthAdjust="spacingAndGlyphs" stroke="#000" stroke-width="0.6">detection</text>
<text x="218.00" y="407.6" font-size="23.3" font-weight="normal" font-style="normal" textLength="169.80" lengthAdjust="spacingAndGlyphs" stroke="#000" stroke-width="0.6">on viral dataset</text>
<text x="426.60" y="344.8" font-size="23.3" font-weight="normal" font-style="normal" textLength="166.60" lengthAdjust="spacingAndGlyphs" stroke="#000" stroke-width="0.6">Protozoa-Fungi</text>
<text x="454.60" y="375.9" font-size="23.3" font-weight="normal" font-style="normal" textLength="104.20" lengthAdjust="spacingAndGlyphs" stroke="#000" stroke-width="0.6">detection</text>
<text x="914.20" y="408.8" font-size="25" font-weight="normal" font-style="normal" textLength="15.40" lengthAdjust="spacingAndGlyphs" stroke="#000" stroke-width="0.6">0</text>
<text x="979.20" y="408.8" font-size="25" font-weight="normal" font-style="normal" textLength="26.40" lengthAdjust="spacingAndGlyphs" stroke="#000" stroke-width="0.6">10</text>
<text x="1048.40" y="408.8" font-size="25" font-weight="normal" font-style="normal" textLength="30.20" lengthAdjust="spacingAndGlyphs" stroke="#000" stroke-width="0.6">20</text>
<text x="1118.60" y="408.8" font-size="25" font-weight="normal" font-style="normal" textLength="30.00" lengthAdjust="spacingAndGlyphs" stroke="#000" stroke-width="0.6">30</text>
<text x="1188.40" y="408.8" font-size="25" font-weight="normal" font-style="normal" textLength="31.60" lengthAdjust="spacingAndGlyphs" stroke="#000" stroke-width="0.6">40</text>
<text x="922.00" y="26.6" font-size="29.9" font-weight="normal" font-style="normal" textLength="175.40" lengthAdjust="spacingAndGlyphs" stroke="#000" stroke-width="0.6">Effector gene</text>
<text x="922.80" y="55.0" font-size="29.9" font-weight="normal" font-style="normal" textLength="134.20" lengthAdjust="spacingAndGlyphs" stroke="#000" stroke-width="0.6">prediction</text>
<text x="1306.00" y="408.8" font-size="25" font-weight="normal" font-style="normal" textLength="16.00" lengthAdjust="spacingAndGlyphs" stroke="#000" stroke-width="0.6">0</text>
<text x="1381.00" y="408.8" font-size="25" font-weight="normal" font-style="normal" textLength="15.00" lengthAdjust="spacingAndGlyphs" stroke="#000" stroke-width="0.6">2</text>
<text x="1454.80" y="408.8" font-size="25" font-weight="normal" font-style="normal" textLength="15.20" lengthAdjust="spacingAndGlyphs" stroke="#000" stroke-width="0.6">4</text>
<text x="1527.60" y="408.8" font-size="25" font-weight="normal" font-style="normal" textLength="15.20" lengthAdjust="spacingAndGlyphs" stroke="#000" stroke-width="0.6">6</text>
<text x="1600.80" y="408.8" font-size="25" font-weight="normal" font-style="normal" textLength="15.20" lengthAdjust="spacingAndGlyphs" stroke="#000" stroke-width="0.6">8</text>
<text x="1313.60" y="26.6" font-size="29.9" font-weight="normal" font-style="normal" textLength="190.60" lengthAdjust="spacingAndGlyphs" stroke="#000" stroke-width="0.6">Bacteriophage</text>
<text x="1314.00" y="55.0" font-size="29.9" font-weight="normal" font-style="normal" textLength="135.00" lengthAdjust="spacingAndGlyphs" stroke="#000" stroke-width="0.6">prediction</text>
<text x="1697.20" y="408.8" font-size="25" font-weight="normal" font-style="normal" textLength="16.00" lengthAdjust="spacingAndGlyphs" stroke="#000" stroke-width="0.6">0</text>
<text x="1771.20" y="408.8" font-size="25" font-weight="normal" font-style="normal" textLength="27.60" lengthAdjust="spacingAndGlyphs" stroke="#000" stroke-width="0.6">10</text>
<text x="1850.40" y="408.8" font-size="25" font-weight="normal" font-style="normal" textLength="30.60" lengthAdjust="spacingAndGlyphs" stroke="#000" stroke-width="0.6">20</text>
<text x="1930.40" y="408.8" font-size="25" font-weight="normal" font-style="normal" textLength="29.60" lengthAdjust="spacingAndGlyphs" stroke="#000" stroke-width="0.6">30</text>
<text x="1705.60" y="26.6" font-size="29.9" font-weight="normal" font-style="normal" textLength="199.20" lengthAdjust="spacingAndGlyphs" stroke="#000" stroke-width="0.6">Protozoa-Fungi</text>
<text x="1705.60" y="55.0" font-size="29.9" font-weight="normal" font-style="normal" textLength="135.40" lengthAdjust="spacingAndGlyphs" stroke="#000" stroke-width="0.6">prediction</text>
<text x="625.80" y="91.6" font-size="25" font-weight="normal" font-style="normal" textLength="145.20" lengthAdjust="spacingAndGlyphs" stroke="#000" stroke-width="0.6">Generic Self-</text>
<text x="722.00" y="124.3" font-size="25" font-weight="normal" font-style="italic" textLength="172.00" lengthAdjust="spacingAndGlyphs" stroke="#000" stroke-width="0.6">Self-GenomeNet</text>
<text x="847.40" y="157.1" font-size="25" font-weight="normal" font-style="normal" textLength="48.00" lengthAdjust="spacingAndGlyphs" stroke="#000" stroke-width="0.6">CPC</text>
<text x="734.20" y="189.8" font-size="25" font-weight="normal" font-style="normal" textLength="160.80" lengthAdjust="spacingAndGlyphs" stroke="#000" stroke-width="0.6">Contrastive-sc</text>
<text x="750.60" y="222.6" font-size="25" font-weight="normal" font-style="normal" textLength="144.40" lengthAdjust="spacingAndGlyphs" stroke="#000" stroke-width="0.6">LM (6-gram)</text>
<text x="750.80" y="255.3" font-size="25" font-weight="normal" font-style="normal" textLength="144.20" lengthAdjust="spacingAndGlyphs" stroke="#000" stroke-width="0.6">LM (3-gram)</text>
<text x="738.40" y="288.1" font-size="25" font-weight="normal" font-style="normal" textLength="156.60" lengthAdjust="spacingAndGlyphs" stroke="#000" stroke-width="0.6">LM (single nt)</text>
<text x="635.20" y="320.9" font-size="25" font-weight="normal" font-style="normal" textLength="259.80" lengthAdjust="spacingAndGlyphs" stroke="#000" stroke-width="0.6">7-mer frequency profile</text>
<text x="773.20" y="353.6" font-size="25" font-weight="normal" font-style="normal" textLength="121.80" lengthAdjust="spacingAndGlyphs" stroke="#000" stroke-width="0.6">Supervised</text>
<text x="770.00" y="91.6" font-size="25" font-weight="normal" font-style="italic" textLength="123.00" lengthAdjust="spacingAndGlyphs" stroke="#000" stroke-width="0.6">GenomeNet</text>
<text x="1303.00" y="436.5" font-size="30" font-weight="normal" font-style="normal" textLength="314.00" lengthAdjust="spacingAndGlyphs" stroke="#000" stroke-width="0.6">Balanced error rate [%]</text>
</svg>
</body></html>
